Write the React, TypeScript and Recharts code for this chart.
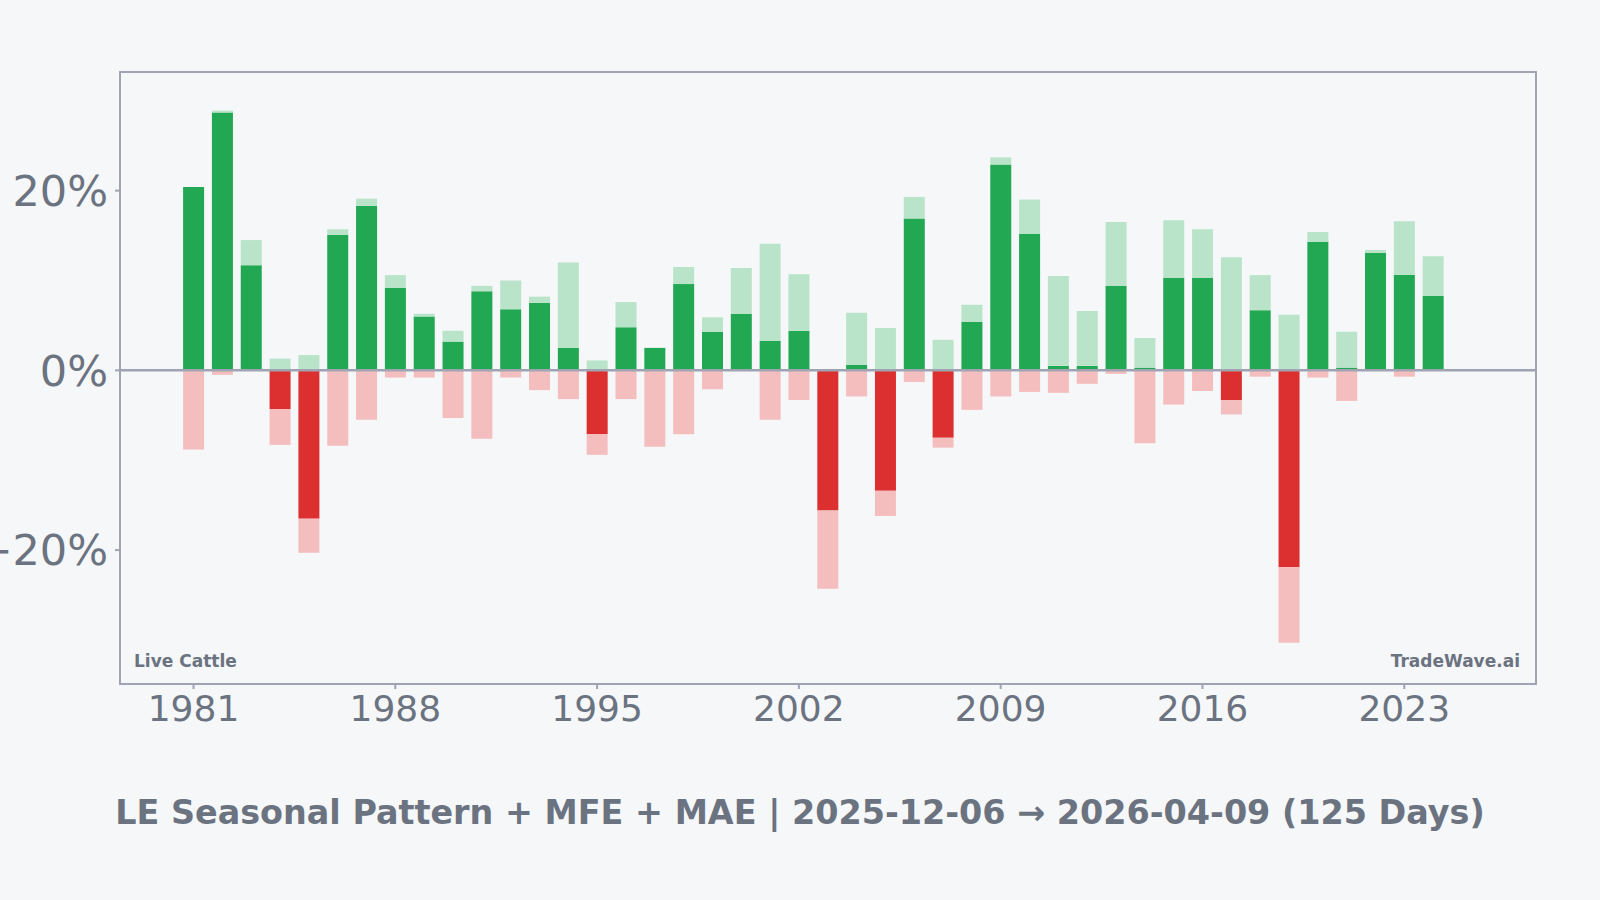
import React from 'react';
import { ComposedChart, Bar, XAxis, YAxis, ReferenceLine, ReferenceArea } from 'recharts';

// seasonal window results per year (percent)
const years = [
  1981, 1982, 1983, 1984, 1985, 1986, 1987, 1988, 1989, 1990, 1991,
  1992, 1993, 1994, 1995, 1996, 1997, 1998, 1999, 2000, 2001, 2002,
  2003, 2004, 2005, 2006, 2007, 2008, 2009, 2010, 2011, 2012, 2013,
  2014, 2015, 2016, 2017, 2018, 2019, 2020, 2021, 2022, 2023, 2024,
];
const returns = [
  20.4, 28.7, 11.7, -4.3, -16.5, 15.1, 18.3, 9.2, 6.0, 3.2, 8.8,
  6.8, 7.5, 2.5, -7.1, 4.8, 2.5, 9.6, 4.3, 6.3, 3.3, 4.4,
  -15.6, 0.6, -13.4, 16.9, -7.5, 5.4, 22.9, 15.2, 0.5, 0.5, 9.4,
  0.3, 10.3, 10.3, -3.3, 6.7, -21.9, 14.3, 0.3, 13.1, 10.6, 8.3,
];
const mfe = [
  20.4, 28.9, 14.5, 1.3, 1.7, 15.7, 19.1, 10.6, 6.3, 4.4, 9.4,
  10.0, 8.2, 12.0, 1.1, 7.6, 2.5, 11.5, 5.9, 11.4, 14.1, 10.7,
  0, 6.4, 4.7, 19.3, 3.4, 7.3, 23.7, 19.0, 10.5, 6.6, 16.5,
  3.6, 16.7, 15.7, 12.6, 10.6, 6.2, 15.4, 4.3, 13.4, 16.6, 12.7,
];
const mae = [
  -8.8, -0.5, 0, -8.3, -20.3, -8.4, -5.5, -0.8, -0.8, -5.3, -7.6,
  -0.8, -2.2, -3.2, -9.4, -3.2, -8.5, -7.1, -2.1, 0, -5.5, -3.3,
  -24.3, -2.9, -16.2, -1.3, -8.6, -4.4, -2.9, -2.4, -2.5, -1.5, -0.4,
  -8.1, -3.8, -2.3, -4.9, -0.7, -30.3, -0.8, -3.4, 0, -0.7, 0,
];
const xTicks = [1981, 1988, 1995, 2002, 2009, 2016, 2023];
const yTicks = [-20, 0, 20];

const data = years.map((year, i) => {
  const r = returns[i];
  if (r >= 0) {
    return { year, gDark: r, gLight: mfe[i] - r, rDark: 0, rLight: mae[i] };
  }
  return { year, gDark: 0, gLight: mfe[i], rDark: r, rLight: mae[i] - r };
});

const X_DOMAIN: [number, number] = [1978.45, 2027.57];
const Y_DOMAIN: [number, number] = [-34.9, 33.2];
const GREY = '#6b7280';
const AXIS = '#a0a3b1';

const App: React.FC = () => {
  return (
    <div style={{ position: 'relative', width: 1600, height: 900, background: '#f5f7f9', fontFamily: 'DejaVu Sans', overflow: 'hidden' }}>
      <style>{'body{margin:0}'}</style>
      <ComposedChart
        width={1600}
        height={900}
        data={data}
        stackOffset="sign"
        margin={{ top: 72, right: 64, left: 0, bottom: 156 }}
      >
        <XAxis
          dataKey="year"
          type="number"
          domain={X_DOMAIN}
          ticks={xTicks}
          allowDataOverflow
          height={60}
          tickSize={5}
          tickMargin={6}
          stroke={AXIS}
          strokeWidth={2}
          tick={{ fontSize: 36, fill: GREY, fontFamily: 'DejaVu Sans' }}
        />
        <YAxis
          type="number"
          domain={Y_DOMAIN}
          ticks={yTicks}
          allowDataOverflow
          width={120}
          tickSize={5}
          tickMargin={7}
          stroke={AXIS}
          strokeWidth={2}
          tickFormatter={(v: number) => (v < 0 ? `\u2212${Math.abs(v)}%` : `${v}%`)}
          tick={{ fontSize: 43, fill: GREY, fontFamily: 'DejaVu Sans' }}
        />
        <Bar dataKey="gDark" stackId="s" fill="#22a852" barSize={21} isAnimationActive={false} />
        <Bar dataKey="gLight" stackId="s" fill="#b9e4c9" barSize={21} isAnimationActive={false} />
        <Bar dataKey="rDark" stackId="s" fill="#dc2f2f" barSize={21} isAnimationActive={false} />
        <Bar dataKey="rLight" stackId="s" fill="#f5bebe" barSize={21} isAnimationActive={false} />
        <ReferenceLine y={0} stroke={AXIS} strokeWidth={2.5} />
        <ReferenceArea
          x1={X_DOMAIN[0]}
          x2={X_DOMAIN[1]}
          y1={Y_DOMAIN[0]}
          y2={Y_DOMAIN[1]}
          fill="none"
          stroke={AXIS}
          strokeWidth={2}
          fillOpacity={0}
        />
      </ComposedChart>
      <div style={{ position: 'absolute', left: 134, top: 651, fontSize: 17, fontWeight: 'bold', color: GREY }}>
        Live Cattle
      </div>
      <div style={{ position: 'absolute', right: 80, top: 651, fontSize: 17, fontWeight: 'bold', color: GREY }}>
        TradeWave.ai
      </div>
      <div style={{ position: 'absolute', left: 0, width: 1600, top: 793, textAlign: 'center', fontSize: 33.4, fontWeight: 'bold', color: GREY }}>
        LE Seasonal Pattern + MFE + MAE | 2025-12-06 → 2026-04-09 (125 Days)
      </div>
    </div>
  );
};

export default App;
